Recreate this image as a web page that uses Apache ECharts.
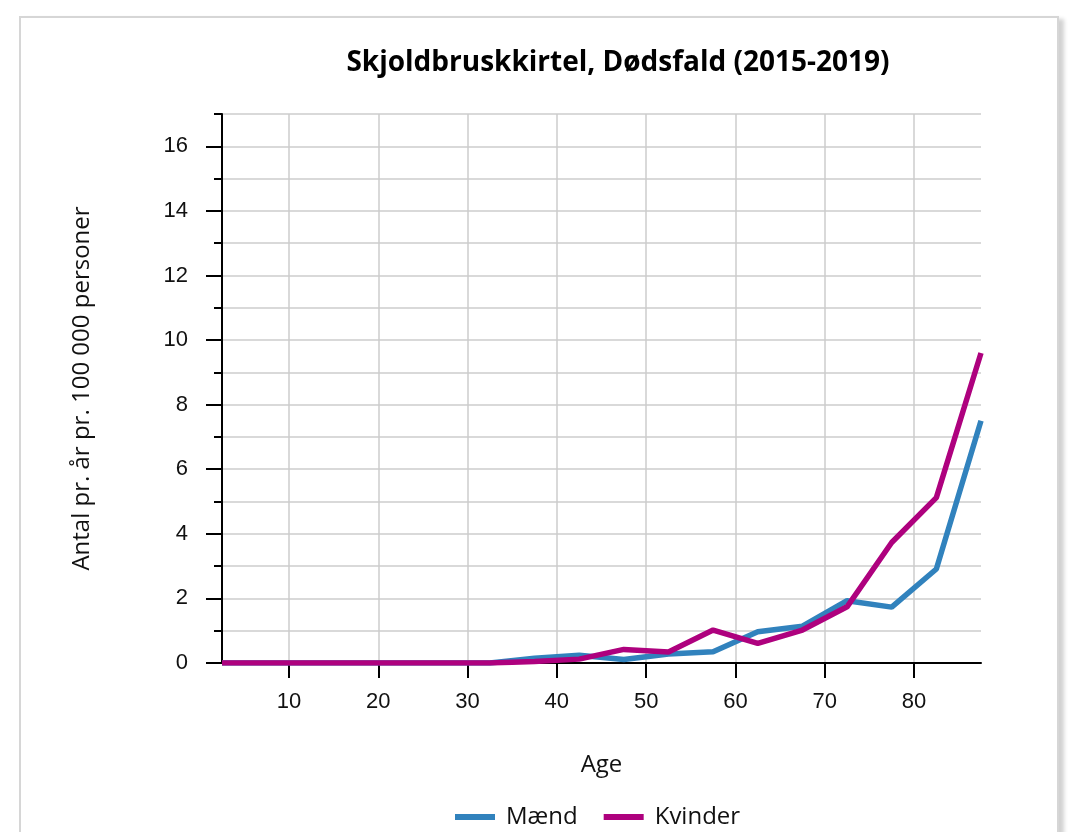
<!DOCTYPE html>
<html>
<head>
<meta charset="utf-8">
<script src="https://cdn.jsdelivr.net/npm/echarts@6/dist/echarts.min.js"></script>
<style>
  html, body { margin: 0; padding: 0; background: #ffffff; width: 1069px; height: 832px; overflow: hidden; }
  #card { position: absolute; left: 19px; top: 16px; width: 1036px; height: 840px; border: 2px solid #d6d6d6; box-shadow: 5px 3px 4px rgba(0,0,0,0.18); background: #fff; }
  #chart { position: absolute; left: 0; top: 0; width: 1069px; height: 832px; }
</style>
</head>
<body>
<div id="card"></div>
<div id="chart"></div>
<script>
const titleText = 'Skjoldbruskkirtel, Dødsfald (2015-2019)';
const yAxisName = 'Antal pr. år pr. 100 000 personer';
const xAxisName = 'Age';
const ages = [2.5, 7.5, 12.5, 17.5, 22.5, 27.5, 32.5, 37.5, 42.5, 47.5, 52.5, 57.5, 62.5, 67.5, 72.5, 77.5, 82.5, 87.5];
const maend =   [0, 0, 0, 0, 0, 0, 0, 0.15, 0.24, 0.11, 0.28, 0.35, 0.97, 1.14, 1.93, 1.73, 2.91, 7.5];
const kvinder = [0, 0, 0, 0, 0, 0, 0, 0.05, 0.12, 0.42, 0.34, 1.02, 0.61, 1.02, 1.74, 3.73, 5.12, 9.6];
const xTicks = [10, 20, 30, 40, 50, 60, 70, 80];
const yMajorTicks = [0, 2, 4, 6, 8, 10, 12, 14, 16];

const chart = echarts.init(document.getElementById('chart'), null, { renderer: 'canvas' });
const pair = (xs, ys) => xs.map((x, i) => [x, ys[i]]);

chart.setOption({
  backgroundColor: 'transparent',
  animation: false,
  title: {
    text: titleText,
    left: 618, top: 49, textAlign: 'center', padding: 0,
    textStyle: { fontFamily: 'Open Sans', fontWeight: 'bold', fontSize: 28, color: '#000' }
  },
  legend: {
    top: 800, left: 450,
    icon: 'rect', itemWidth: 40, itemHeight: 6, itemGap: 26,
    textStyle: { fontFamily: 'Open Sans', fontSize: 24, color: '#111', padding: [0, 0, 0, 6] },
    data: ['Mænd', 'Kvinder']
  },
  grid: { left: 222, right: 88, top: 114, bottom: 169, containLabel: false },
  xAxis: {
    type: 'value', min: 2.5, max: 87.5,
    name: xAxisName, nameLocation: 'middle', nameGap: 90,
    nameTextStyle: { fontFamily: 'Open Sans', fontSize: 24, color: '#111' },
    axisLine: { show: true, onZero: false, lineStyle: { color: '#000', width: 2 } },
    axisTick: { show: true, customValues: xTicks, length: 15, lineStyle: { color: '#000', width: 2 } },
    axisLabel: { customValues: xTicks, margin: 28, fontFamily: 'Liberation Sans', fontSize: 22, color: '#111' },
    splitLine: { show: true, lineStyle: { color: '#cccccc', width: 1.5 } }
  },
  yAxis: [{
    type: 'value', min: 0, max: 17, interval: 1,
    name: yAxisName, nameLocation: 'middle', nameGap: 128, nameRotate: 90,
    nameTextStyle: { fontFamily: 'Open Sans', fontSize: 24, color: '#111' },
    axisLine: { show: true, lineStyle: { color: '#000', width: 2 } },
    axisTick: { show: true, length: 8, lineStyle: { color: '#000', width: 2 } },
    axisLabel: {
      margin: 34, fontFamily: 'Liberation Sans', fontSize: 22, color: '#111',
      formatter: v => (yMajorTicks.indexOf(v) >= 0 ? String(v) : '')
    },
    splitLine: { show: true, lineStyle: { color: '#cccccc', width: 1.5 } }
  }, {
    type: 'value', min: 0, max: 17, position: 'left', offset: 0,
    axisLine: { show: false },
    axisTick: { show: true, customValues: yMajorTicks, length: 16, lineStyle: { color: '#000', width: 2 } },
    axisLabel: { show: false },
    splitLine: { show: false }
  }],
  series: [{
    name: 'Mænd', type: 'line', yAxisIndex: 0, data: pair(ages, maend),
    showSymbol: false, symbol: 'none',
    lineStyle: { color: '#3182bd', width: 5.5 }, itemStyle: { color: '#3182bd' }
  }, {
    name: 'Kvinder', type: 'line', yAxisIndex: 0, data: pair(ages, kvinder),
    showSymbol: false, symbol: 'none',
    lineStyle: { color: '#ae017e', width: 5.5 }, itemStyle: { color: '#ae017e' }
  }]
});
</script>
</body>
</html>
